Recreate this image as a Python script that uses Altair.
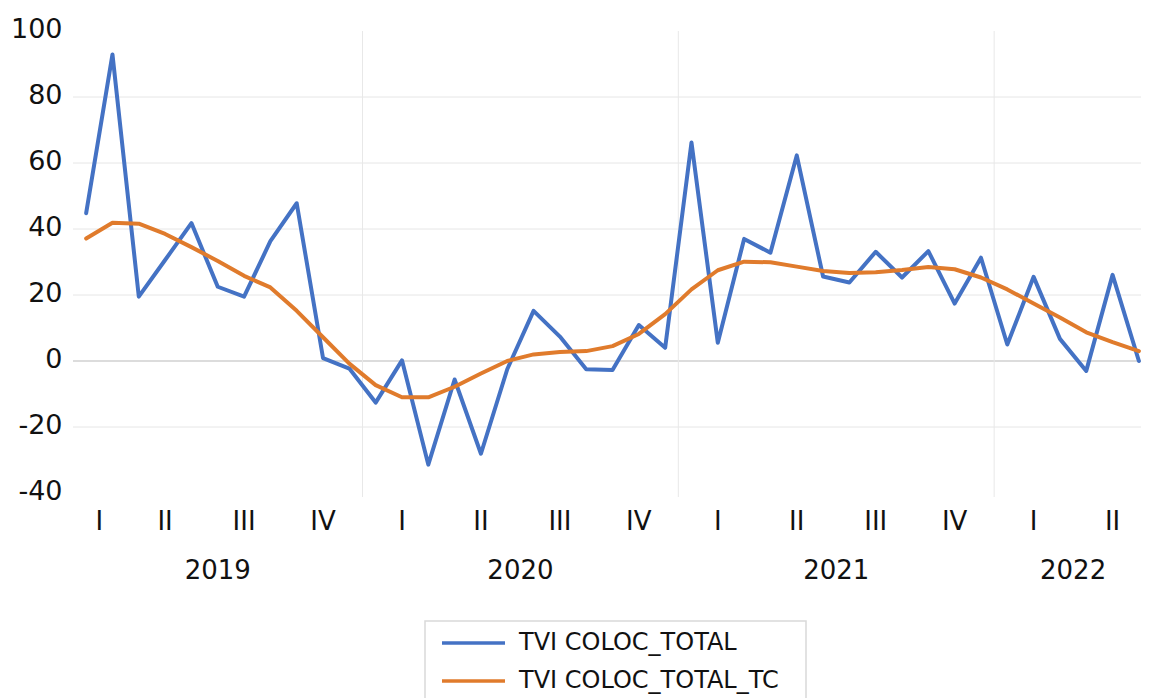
import altair as alt
import pandas as pd

# ---------------- data ----------------
months = [
    "2019-02", "2019-03", "2019-04", "2019-05", "2019-06", "2019-07", "2019-08",
    "2019-09", "2019-10", "2019-11", "2019-12",
    "2020-01", "2020-02", "2020-03", "2020-04", "2020-05", "2020-06", "2020-07",
    "2020-08", "2020-09", "2020-10", "2020-11", "2020-12",
    "2021-01", "2021-02", "2021-03", "2021-04", "2021-05", "2021-06", "2021-07",
    "2021-08", "2021-09", "2021-10", "2021-11", "2021-12",
    "2022-01", "2022-02", "2022-03", "2022-04", "2022-05", "2022-06",
]
tvi_total = [
    44.8, 92.9, 19.5, 30.6, 41.8, 22.5, 19.5, 36.3, 47.8, 0.9, -2.3,
    -12.6, 0.2, -31.4, -5.6, -28.1, -2.5, 15.2, 7.4, -2.5, -2.7, 10.9, 4.0,
    66.2, 5.5, 37.0, 32.8, 62.3, 25.6, 23.8, 33.1, 25.3, 33.3, 17.4, 31.3,
    5.0, 25.5, 6.7, -3.0, 26.1, 0.0,
]
tvi_total_tc = [
    37.1, 41.9, 41.6, 38.5, 34.5, 30.3, 25.8, 22.3, 15.2, 7.2, -0.8,
    -7.3, -11.0, -11.0, -7.8, -3.8, 0.0, 2.0, 2.7, 3.0, 4.5, 8.2, 14.2,
    21.7, 27.5, 30.1, 29.9, 28.6, 27.3, 26.7, 26.9, 27.6, 28.5, 27.8, 25.3,
    21.7, 17.4, 13.2, 8.7, 5.7, 3.0,
]
quarter_names = ["I", "II", "III", "IV"]
series_names = ["TVI COLOC_TOTAL", "TVI COLOC_TOTAL_TC"]
series_colors = ["#4472C4", "#E07B2C"]
y_ticks = [-40, -20, 0, 20, 40, 60, 80, 100]
grid_values = [-20, 20, 40, 60, 80]

FONT = "DejaVu Sans"
TXT = "#111111"

# ---------------- derived tables ----------------
n = len(months)
idx = list(range(n))
years = [m[:4] for m in months]
qs = [(int(m[5:]) - 1) // 3 for m in months]

line1 = pd.DataFrame({"i": idx, "month": months, "v": tvi_total, "series": series_names[0]})
line2 = pd.DataFrame({"i": idx, "month": months, "v": tvi_total_tc, "series": series_names[1]})

qrows = []
for (y, q) in dict.fromkeys(zip(years, qs)):
    members = [k for k in idx if years[k] == y and qs[k] == q]
    qrows.append({"pos": sum(members) / len(members), "label": quarter_names[q]})
qdf = pd.DataFrame(qrows)

yrows = []
for y in dict.fromkeys(years):
    members = [k for k in idx if years[k] == y]
    yrows.append({"pos": sum(members) / len(members), "label": y})
ydf = pd.DataFrame(yrows)

bdf = pd.DataFrame({"b": [k - 0.5 for k in idx[1:] if years[k] != years[k - 1]]})
gdf = pd.DataFrame({"v": grid_values})
zdf = pd.DataFrame({"v": [0]})
one = pd.DataFrame({"k": [0]})

xscale = alt.Scale(domain=[-0.5, n - 1 + 0.08], nice=False, zero=False)
yscale = alt.Scale(domain=[y_ticks[0], y_ticks[-1]], nice=False, zero=False)
cscale = alt.Scale(domain=series_names, range=series_colors)

PLOT_W = 1068
PLOT_H = 462

grid = alt.Chart(gdf).mark_rule(color="#e6e6e6", strokeWidth=1).encode(
    y=alt.Y("v:Q", scale=yscale, axis=alt.Axis(
        values=y_ticks, grid=False, domain=False, ticks=False,
        labelExpr="'' + datum.value",
        labelFont=FONT, labelFontSize=27, labelColor=TXT, labelPadding=11,
        labelOffset=-2, title=None)),
)
zero = alt.Chart(zdf).mark_rule(color="#d0d0d0", strokeWidth=1.6).encode(
    y=alt.Y("v:Q", scale=yscale),
)
vlines = alt.Chart(bdf).mark_rule(color="#e8e8e8", strokeWidth=1).encode(
    x=alt.X("b:Q", scale=xscale, axis=None),
    y=alt.value(0),
    y2=alt.value(PLOT_H + 4),
)

def series_line(d):
    return alt.Chart(d).mark_line(strokeWidth=4, strokeJoin="round", strokeCap="round").encode(
        x=alt.X("i:Q", scale=xscale, axis=None),
        y=alt.Y("v:Q", scale=yscale),
        color=alt.Color("series:N", scale=cscale, legend=None),
    )

qtext = alt.Chart(qdf).mark_text(font=FONT, fontSize=26, color=TXT, baseline="middle").encode(
    x=alt.X("pos:Q", scale=xscale, axis=None),
    y=alt.value(491),
    text="label:N",
)
ytext = alt.Chart(ydf).mark_text(font=FONT, fontSize=26, color=TXT, baseline="middle").encode(
    x=alt.X("pos:Q", scale=xscale, axis=None),
    y=alt.value(540),
    text="label:N",
)

# legend (bottom, boxed)
legend_box = alt.Chart(one).mark_rect(fillOpacity=0, stroke="#d9d9d9", strokeWidth=1.5).encode(
    x=alt.value(352), x2=alt.value(733), y=alt.value(590), y2=alt.value(760),
)
legend_layers = []
for k, (name, col) in enumerate(zip(series_names, series_colors)):
    ypix = 612 + 38 * k
    legend_layers.append(
        alt.Chart(one).mark_rule(color=col, strokeWidth=3.6).encode(
            x=alt.value(369), x2=alt.value(432), y=alt.value(ypix))
    )
    legend_layers.append(
        alt.Chart(one).mark_text(text=name, font=FONT, fontSize=24, color=TXT,
                                 align="left", baseline="middle").encode(
            x=alt.value(446), y=alt.value(ypix))
    )

chart = alt.layer(
    grid, zero, vlines, series_line(line1), series_line(line2), qtext, ytext,
    legend_box, *legend_layers,
).properties(
    width=PLOT_W, height=PLOT_H,
    autosize=alt.AutoSizeParams(type="none"),
    padding={"left": 65, "top": 23, "right": 0, "bottom": 205},
    background="white",
).configure_view(stroke=None)

chart.save("out.html", embed_options={"renderer": "svg", "actions": False})
